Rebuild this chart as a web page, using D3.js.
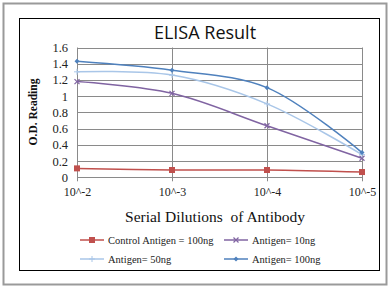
<!DOCTYPE html>
<html><head><meta charset="utf-8">
<script src="https://cdn.jsdelivr.net/npm/d3@7"></script>
<style>body{margin:0;background:#fff}svg{display:block}</style>
</head><body>
<script>
const categories = ["10^-2","10^-3","10^-4","10^-5"];
const control100 = [0.11, 0.09, 0.09, 0.065];
const antigen10 = [1.18, 1.035, 0.635, 0.235];
const antigen50 = [1.30, 1.26, 0.905, 0.28];
const antigen100 = [1.43, 1.32, 1.105, 0.305];
const yTicks = [0, 0.2, 0.4, 0.6, 0.8, 1, 1.2, 1.4, 1.6];
const seriesNames = ["Control Antigen = 100ng","Antigen= 10ng","Antigen= 50ng","Antigen= 100ng"];

const series = [
  {name: seriesNames[0], values: control100, color: "#c0504d", marker: "square"},
  {name: seriesNames[1], values: antigen10, color: "#8064a2", marker: "x"},
  {name: seriesNames[2], values: antigen50, color: "#a9c6e8", marker: "plus"},
  {name: seriesNames[3], values: antigen100, color: "#4f81bd", marker: "diamond"}
];

const W = 389, H = 291;
const svg = d3.select("body").append("svg").attr("width", W).attr("height", H);
svg.append("rect").attr("x",0).attr("y",0).attr("width",W).attr("height",H).attr("fill","#fff");
svg.append("rect").attr("x",3.5).attr("y",3.5).attr("width",383).attr("height",281)
  .attr("fill","none").attr("stroke","#9a9a9a").attr("stroke-width",2);
svg.append("rect").attr("x",19.5).attr("y",18.5).attr("width",360).attr("height",252)
  .attr("fill","none").attr("stroke","#000").attr("stroke-width",1);

const x = d3.scalePoint().domain(categories).range([77, 362]);
const y = d3.scaleLinear().domain([0, 1.6]).range([177.3, 47.5]);

// grid
const g = svg.append("g");
g.selectAll("line.h").data(yTicks).join("line")
  .attr("x1", 77).attr("x2", 362)
  .attr("y1", d => Math.round(y(d))+0.5).attr("y2", d => Math.round(y(d))+0.5)
  .attr("stroke", "#8a8a8a").attr("stroke-width", 1);
g.selectAll("line.v").data(categories).join("line")
  .attr("x1", d => Math.round(x(d))+0.5).attr("x2", d => Math.round(x(d))+0.5)
  .attr("y1", y(1.6)).attr("y2", y(0)+4)
  .attr("stroke", "#8a8a8a").attr("stroke-width", 1);

// y axis labels
const yAxis = d3.axisLeft(y).tickValues(yTicks).tickSize(0).tickPadding(9)
  .tickFormat(d => d3.format("")(d));
const ya = svg.append("g").attr("transform", "translate(77,0)").call(yAxis);
ya.select(".domain").remove();
ya.selectAll("text").attr("font-family", "Liberation Serif").attr("font-size", 12.5).attr("fill", "#222");

// x axis labels
const xAxis = d3.axisBottom(x).tickSize(0).tickPadding(10);
const xa = svg.append("g").attr("transform", `translate(0,${y(0)})`).call(xAxis);
xa.select(".domain").remove();
xa.selectAll("text").attr("font-family", "Liberation Serif").attr("font-size", 12).attr("fill", "#222");

// titles
svg.append("text").attr("x", 205).attr("y", 39).attr("text-anchor", "middle")
  .attr("font-family", "Open Sans").attr("font-size", 18).attr("fill", "#111").text("ELISA Result");
svg.append("text").attr("x", 215).attr("y", 222).attr("text-anchor", "middle")
  .attr("font-family", "Liberation Serif").attr("font-size", 15.5).attr("fill", "#111")
  .text("Serial Dilutions\u00a0 of Antibody");
svg.append("text").attr("transform", "translate(37,112) rotate(-90)").attr("text-anchor", "middle")
  .attr("font-family", "Liberation Serif").attr("font-weight", "bold").attr("font-size", 11.5)
  .attr("fill", "#111").text("O.D. Reading");

// lines
const line = d3.line().x((d, i) => x(categories[i])).y(d => y(d)).curve(d3.curveCatmullRom.alpha(0.5));

function drawMarker(sel, type, color, cx, cy) {
  if (type === "square") {
    sel.append("rect").attr("x", cx-3).attr("y", cy-3).attr("width", 6).attr("height", 6).attr("fill", color);
  } else if (type === "diamond") {
    sel.append("path").attr("d", `M${cx},${cy-2.5}L${cx+2.5},${cy}L${cx},${cy+2.5}L${cx-2.5},${cy}Z`).attr("fill", color);
  } else if (type === "x") {
    sel.append("path").attr("d", `M${cx-2.5},${cy-2.5}L${cx+2.5},${cy+2.5}M${cx-2.5},${cy+2.5}L${cx+2.5},${cy-2.5}`)
      .attr("stroke", color).attr("stroke-width", 1.2);
  } else if (type === "plus") {
    sel.append("path").attr("d", `M${cx-3},${cy}L${cx+3},${cy}M${cx},${cy-3}L${cx},${cy+3}`)
      .attr("stroke", color).attr("stroke-width", 1);
  }
}

series.forEach(s => {
  svg.append("path").datum(s.values).attr("d", line).attr("fill", "none")
    .attr("stroke", s.color).attr("stroke-width", 1.5);
  const mg = svg.append("g");
  s.values.forEach((v, i) => drawMarker(mg, s.marker, s.color, x(categories[i]), y(v)));
});

// legend
const legPos = [[80, 240], [224, 240], [80, 259], [224, 259]];
series.forEach((s, i) => {
  const [lx, ly] = legPos[i];
  const lg = svg.append("g");
  lg.append("line").attr("x1", lx).attr("x2", lx+24).attr("y1", ly).attr("y2", ly)
    .attr("stroke", s.color).attr("stroke-width", 1.5);
  drawMarker(lg, s.marker, s.color, lx+12, ly);
  lg.append("text").attr("x", lx+28).attr("y", ly+4).attr("font-family", "Liberation Serif")
    .attr("font-size", 10.5).attr("fill", "#222").text(s.name);
});
</script>
</body></html>
